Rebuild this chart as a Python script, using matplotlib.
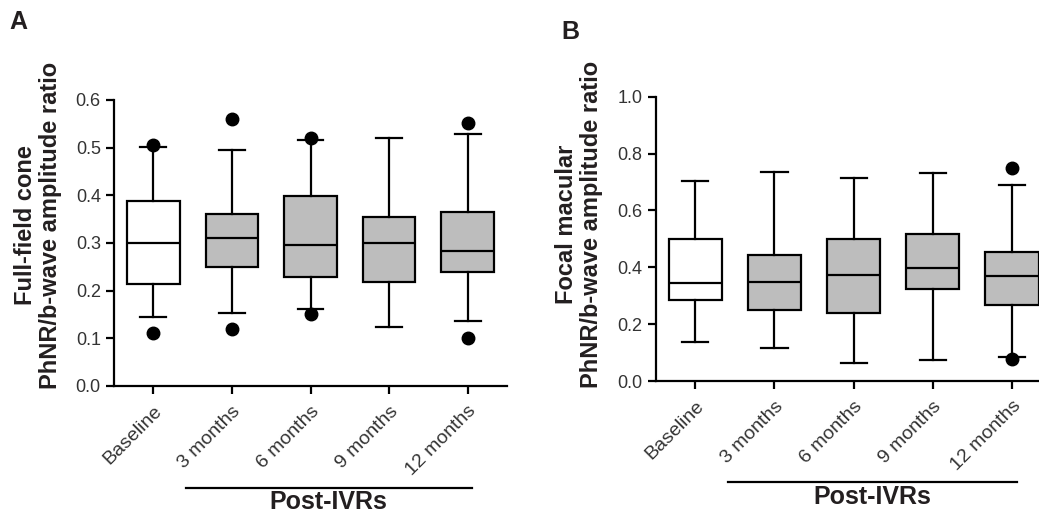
import matplotlib
matplotlib.use("Agg")
import matplotlib.pyplot as plt
import matplotlib.transforms as mtransforms

plt.rcParams["font.family"] = ["Liberation Sans", "DejaVu Sans"]
INK = "#231f20"
GRAY = "#bdbdbd"

categories = ["Baseline", "3 months", "6 months", "9 months", "12 months"]
box_fill = ["white", GRAY, GRAY, GRAY, GRAY]

# panel A: full-field cone PhNR/b-wave ratio
a_whislo = [0.145, 0.154, 0.161, 0.123, 0.136]
a_q1 = [0.213, 0.249, 0.228, 0.218, 0.239]
a_med = [0.300, 0.311, 0.295, 0.299, 0.283]
a_q3 = [0.388, 0.361, 0.399, 0.355, 0.364]
a_whishi = [0.502, 0.496, 0.517, 0.520, 0.529]
a_fliers = [[0.112, 0.505], [0.119, 0.560], [0.150, 0.521], [], [0.100, 0.551]]

# panel B: focal macular PhNR/b-wave ratio
b_whislo = [0.136, 0.115, 0.063, 0.075, 0.085]
b_q1 = [0.286, 0.250, 0.240, 0.325, 0.266]
b_med = [0.344, 0.349, 0.374, 0.399, 0.368]
b_q3 = [0.499, 0.444, 0.499, 0.516, 0.455]
b_whishi = [0.705, 0.734, 0.715, 0.732, 0.688]
b_fliers = [[], [], [], [], [0.077, 0.750]]

a_ticks = [0.0, 0.1, 0.2, 0.3, 0.4, 0.5, 0.6]
b_ticks = [0.0, 0.2, 0.4, 0.6, 0.8, 1.0]


def panel(ax, whislo, q1, med, q3, whishi, fliers, ticks, ylabel, lx, ly):
    stats = []
    for i in range(len(categories)):
        stats.append(dict(whislo=whislo[i], q1=q1[i], med=med[i], q3=q3[i],
                          whishi=whishi[i], fliers=fliers[i], label=categories[i]))
    bp = ax.bxp(stats, positions=range(1, len(categories) + 1), widths=0.67,
                patch_artist=True, showcaps=True,
                boxprops=dict(linewidth=1.6, edgecolor="black"),
                medianprops=dict(color="black", linewidth=1.6),
                whiskerprops=dict(color="black", linewidth=1.6),
                capprops=dict(color="black", linewidth=1.6),
                capwidths=0.33,
                flierprops=dict(marker="o", markerfacecolor="black",
                                markeredgecolor="black", markersize=9))
    for patch, c in zip(bp["boxes"], box_fill):
        patch.set_facecolor(c)

    ax.set_xlim(0.5, 5.5)
    ax.set_ylim(ticks[0], ticks[-1])
    ax.set_yticks(ticks)
    ax.set_yticklabels([f"{t:.1f}" for t in ticks], fontsize=13, color="#333333")
    ax.set_xticks(range(1, len(categories) + 1))
    ax.set_xticklabels(categories, rotation=45, ha="right", va="top",
                       rotation_mode="anchor", fontsize=14, color="#333333")
    for s in ("top", "right"):
        ax.spines[s].set_visible(False)
    for s in ("left", "bottom"):
        ax.spines[s].set_linewidth(1.6)
    ax.tick_params(axis="both", width=1.6, length=6, color="black")
    ax.tick_params(axis="x", pad=6)

    # bracket under the post-treatment groups
    trans = mtransforms.blended_transform_factory(ax.transData, ax.transAxes)
    ax.plot([1.41, 5.06], [-0.355, -0.355], color="black", lw=1.6,
            transform=trans, clip_on=False)
    ax.text(3.23, -0.365, "Post-IVRs", transform=trans, ha="center", va="top",
            fontsize=18, fontweight="bold", color=INK)

    fig.text(lx, ly, ylabel, rotation=90, ha="center", va="center",
             multialignment="center", fontsize=17, fontweight="bold",
             color=INK, linespacing=1.15)


fig = plt.figure(figsize=(10.39, 5.13), dpi=100)
axA = fig.add_axes([0.1097, 0.2476, 0.3783, 0.5575])
axB = fig.add_axes([0.6311, 0.2573, 0.3810, 0.5542])

panel(axA, a_whislo, a_q1, a_med, a_q3, a_whishi, a_fliers, a_ticks,
      "Full-field cone\nPhNR/b-wave amplitude ratio", 38 / 1039, 1 - 225 / 513)
panel(axB, b_whislo, b_q1, b_med, b_q3, b_whishi, b_fliers, b_ticks,
      "Focal macular\nPhNR/b-wave amplitude ratio", 579 / 1039, 1 - 224 / 513)

fig.text(9 / 1039, 1 - 22 / 513, "A", fontsize=18, fontweight="bold",
         color=INK, va="center", ha="left")
fig.text(561 / 1039, 1 - 32 / 513, "B", fontsize=18, fontweight="bold",
         color=INK, va="center", ha="left")

fig.savefig("out.png", dpi=100, facecolor="white")
